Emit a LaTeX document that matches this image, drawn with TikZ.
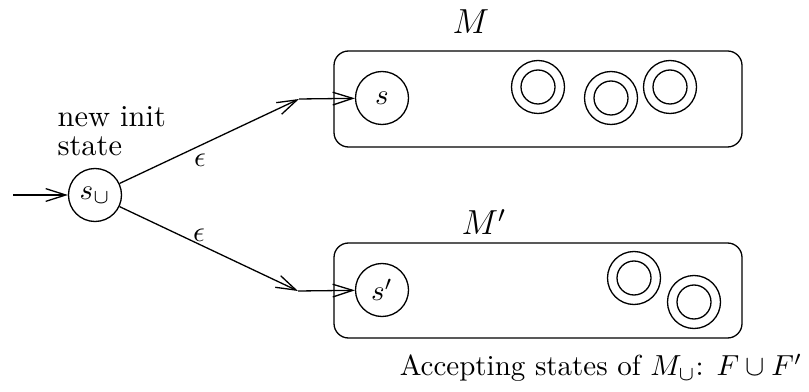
\documentclass[tikz,border=0pt]{standalone}
\usetikzlibrary{arrows.meta}
\begin{document}
\begin{tikzpicture}[x=0.345pt,y=-0.345pt,
  every path/.style={line width=0.45pt},
  st/.style={circle,draw,minimum size=53*0.345pt,inner sep=0pt},
  acc/.style={circle,draw,minimum size=53*0.345pt,inner sep=0pt,
    append after command={node[circle,draw,minimum size=34*0.345pt,inner sep=0pt] at (\tikzlastnode.center) {}}},
  box/.style={draw,rounded corners=5pt},
  arr/.style={-{Straight Barb[length=6.9pt,width=4.4pt]}},
  lbl/.style={inner sep=0pt}]
\useasboundingbox (0,0) rectangle (809,391);
% boxes
\draw[box] (334,51) rectangle (742,147);
\draw[box] (334,243) rectangle (742,338);
\node[lbl,font=\large] (M) at (471,22) {$M$};
\node[lbl,font=\large] (Mp) at (484,222) {$M'$};
% states
\node[st] (su) at (95,195) {$s_{\cup}$};
\node[st] (s) at (382,98) {$s$};
\node[st] (sp) at (382,290) {$s'$};
\node[acc] (a1) at (538,87) {};
\node[acc] (a2) at (611,98) {};
\node[acc] (a3) at (670,87) {};
\node[acc] (b1) at (634,278) {};
\node[acc] (b2) at (694,302) {};
% coordinates
\coordinate (start) at (13,195);
\coordinate (k1) at (299,99);
\coordinate (k2) at (298,291);
% arrows
\draw[arr] (start) -- (su);
\draw[arr] (su) -- (k1);
\draw[arr] (k1) -- (s);
\draw[arr] (su) -- (k2);
\draw[arr] (k2) -- (sp);
% labels
\node[lbl] (e1) at (200,160) {$\epsilon$};
\node[lbl] (e2) at (199,235) {$\epsilon$};
\node[lbl,align=left,anchor=north west,font=\fontsize{10.5}{12}\selectfont] (ni) at (57,106) {new init\\[-2pt]state};
\node[lbl] (acctext) at (601,368) {Accepting states of $M_{\cup}$: $F\cup F'$};
\end{tikzpicture}
\end{document}
